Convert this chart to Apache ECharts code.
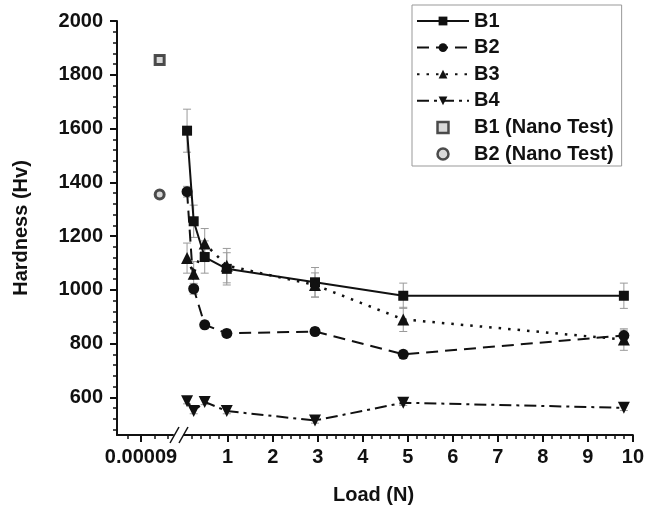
<!DOCTYPE html>
<html>
<head>
<meta charset="UTF-8" />
<title>Hardness vs Load</title>
<script src="https://cdn.jsdelivr.net/npm/echarts@6/dist/echarts.min.js"></script>
<style>
  html, body { margin: 0; padding: 0; background: #fff; }
  #main { width: 647px; height: 512px; }
</style>
</head>
<body>
<div id="main"></div>
<script>
// loads in N (HV0.01 .. HV1)
var loads = [0.098, 0.245, 0.49, 0.98, 2.94, 4.9, 9.8];
var b1 = [1592, 1255, 1122, 1078, 1028, 978, 978];
var b2 = [1365, 1004, 870, 838, 845, 760, 830];
var b3 = [1118, 1060, 1172, 1090, 1018, 890, 815];
var b4 = [586, 549, 583, 549, 514, 580, 561];
var b1Err = [80, 60, 60, 60, 55, 47, 47];
var b2Err = [20, 20, 15, 15, 15, 15, 20];
var b3Err = [56, 45, 56, 64, 45, 45, 40];
var b4Err = [10, 10, 10, 10, 10, 10, 10];

// nano indentation points (left part of the broken axis)
var nanoLoad = [0.0000935];
var b1Nano = [1855];
var b2Nano = [1355];

var yTicks = [600, 800, 1000, 1200, 1400, 1600, 1800, 2000];
var yMinor = [];
for (var v = 480; v <= 2000; v += 40) yMinor.push(v);
var xTicks = [1, 2, 3, 4, 5, 6, 7, 8, 9, 10];
var xMinor = [];
for (var i = 1; i <= 50; i++) { if (i % 5) xMinor.push(i / 5); }
var xLeftTicks = [0.00009];
var xLeftMinor = [0.0000875, 0.0000925, 0.000095];

var FONT = 'Liberation Sans';
var SQUARE = 'path://M0,0L10,0L10,10L0,10Z';
var nanoStyle = { color: '#cfcfcf', borderColor: '#222', borderWidth: 3 };

function pairs(xs, ys) {
  return xs.map(function (x, k) { return [x, ys[k]]; });
}
function errData(ys, errs) {
  return loads.map(function (x, k) { return [x, ys[k] - errs[k], ys[k] + errs[k]]; });
}
function errorBar(params, api) {
  var x = api.value(0);
  var top = api.coord([x, api.value(2)]);
  var bot = api.coord([x, api.value(1)]);
  var w = 4;
  var st = { stroke: '#9a9a9a', lineWidth: 1 };
  return {
    type: 'group',
    children: [
      { type: 'line', shape: { x1: top[0], y1: top[1], x2: bot[0], y2: bot[1] }, style: st },
      { type: 'line', shape: { x1: top[0] - w, y1: top[1], x2: top[0] + w, y2: top[1] }, style: st },
      { type: 'line', shape: { x1: bot[0] - w, y1: bot[1], x2: bot[0] + w, y2: bot[1] }, style: st }
    ]
  };
}
function plain(v) { return String(v); }

var axisLine = { show: true, lineStyle: { color: '#111', width: 2 } };
var yMin = 460, yMax = 2000;

var chart = echarts.init(document.getElementById('main'));
var option = {
  animation: false,
  backgroundColor: '#fff',
  grid: [
    { left: 117, width: 56, top: 21, bottom: 77 },
    { left: 184, right: 11, top: 21, bottom: 77 }
  ],
  xAxis: [
    {
      gridIndex: 0, type: 'value', position: 'bottom', min: 0.0000855, max: 0.000096,
      axisLine: axisLine, splitLine: { show: false },
      axisTick: { show: true, customValues: xLeftTicks, length: 7, lineStyle: { color: '#111', width: 2 } },
      axisLabel: { customValues: xLeftTicks, margin: 12, formatter: function () { return '0.00009'; },
        color: '#111', fontSize: 20, fontWeight: 'bold', fontFamily: FONT }
    },
    {
      gridIndex: 0, type: 'value', position: 'bottom', min: 0.0000855, max: 0.000096,
      axisLine: { show: false }, splitLine: { show: false }, axisLabel: { show: false },
      axisTick: { show: true, customValues: xLeftMinor, length: 4, lineStyle: { color: '#111', width: 1.5 } }
    },
    {
      gridIndex: 1, type: 'value', position: 'bottom', min: 0.03, max: 10,
      axisLine: axisLine, splitLine: { show: false },
      axisTick: { show: true, customValues: xTicks, length: 7, lineStyle: { color: '#111', width: 2 } },
      axisLabel: { customValues: xTicks, margin: 12, formatter: plain,
        color: '#111', fontSize: 20, fontWeight: 'bold', fontFamily: FONT }
    },
    {
      gridIndex: 1, type: 'value', position: 'bottom', min: 0.03, max: 10,
      axisLine: { show: false }, splitLine: { show: false }, axisLabel: { show: false },
      axisTick: { show: true, customValues: xMinor, length: 4, lineStyle: { color: '#111', width: 1.5 } }
    }
  ],
  yAxis: [
    {
      gridIndex: 0, type: 'value', position: 'left', min: yMin, max: yMax,
      name: 'Hardness (Hv)', nameLocation: 'middle', nameGap: 86, nameRotate: 90,
      nameTextStyle: { color: '#111', fontSize: 20, fontWeight: 'bold', fontFamily: FONT },
      axisLine: axisLine, splitLine: { show: false },
      axisTick: { show: true, customValues: yTicks, length: 7, lineStyle: { color: '#111', width: 2 } },
      axisLabel: { customValues: yTicks, margin: 14, formatter: plain,
        color: '#111', fontSize: 20, fontWeight: 'bold', fontFamily: FONT }
    },
    {
      gridIndex: 0, type: 'value', position: 'left', min: yMin, max: yMax,
      axisLine: { show: false }, splitLine: { show: false }, axisLabel: { show: false },
      axisTick: { show: true, customValues: yMinor, length: 4, lineStyle: { color: '#111', width: 1.5 } }
    },
    {
      gridIndex: 1, type: 'value', min: yMin, max: yMax, show: false
    }
  ],
  legend: {
    orient: 'vertical', left: 412, top: 5,
    padding: [6, 8, 2, 4],
    itemWidth: 52, itemHeight: 11, itemGap: 6.6, itemTextGap: 4,
    borderColor: '#999', borderWidth: 1,
    textStyle: { color: '#111', fontSize: 20, fontWeight: 'bold', fontFamily: FONT, lineHeight: 20 },
    data: ['B1', 'B2', 'B3', 'B4',
      { name: 'B1 (Nano Test)', itemStyle: { color: '#cfcfcf', borderColor: '#222', borderWidth: 2.5 } },
      { name: 'B2 (Nano Test)', itemStyle: { color: '#cfcfcf', borderColor: '#222', borderWidth: 2.5 } }]
  },
  graphic: [
    { type: 'line', shape: { x1: 170, y1: 443, x2: 179, y2: 427 }, style: { stroke: '#111', lineWidth: 1.5 } },
    { type: 'line', shape: { x1: 179, y1: 443, x2: 188, y2: 427 }, style: { stroke: '#111', lineWidth: 1.5 } },
    { type: 'text', left: 333, top: 485, style: { text: 'Load (N)', fill: '#111', fontSize: 20, fontWeight: 'bold', fontFamily: FONT } }
  ],
  series: [
    { type: 'custom', name: 'errB1', xAxisIndex: 2, yAxisIndex: 2, renderItem: errorBar, encode: { x: 0, y: [1, 2] }, data: errData(b1, b1Err), z: 1 },
    { type: 'custom', name: 'errB2', xAxisIndex: 2, yAxisIndex: 2, renderItem: errorBar, encode: { x: 0, y: [1, 2] }, data: errData(b2, b2Err), z: 1 },
    { type: 'custom', name: 'errB3', xAxisIndex: 2, yAxisIndex: 2, renderItem: errorBar, encode: { x: 0, y: [1, 2] }, data: errData(b3, b3Err), z: 1 },
    { type: 'custom', name: 'errB4', xAxisIndex: 2, yAxisIndex: 2, renderItem: errorBar, encode: { x: 0, y: [1, 2] }, data: errData(b4, b4Err), z: 1 },
    {
      type: 'line', name: 'B1', xAxisIndex: 2, yAxisIndex: 2, data: pairs(loads, b1),
      symbol: 'rect', symbolSize: 10, z: 5,
      itemStyle: { color: '#111' }, lineStyle: { color: '#111', width: 2, type: 'solid' }
    },
    {
      type: 'line', name: 'B2', xAxisIndex: 2, yAxisIndex: 2, data: pairs(loads, b2),
      symbol: 'circle', symbolSize: 11, z: 5,
      itemStyle: { color: '#111' }, lineStyle: { color: '#111', width: 2, type: [12, 7] }
    },
    {
      type: 'line', name: 'B3', xAxisIndex: 2, yAxisIndex: 2, data: pairs(loads, b3),
      symbol: 'triangle', symbolSize: 12, z: 5,
      itemStyle: { color: '#111' }, lineStyle: { color: '#111', width: 2.5, type: [2.5, 7] }
    },
    {
      type: 'line', name: 'B4', xAxisIndex: 2, yAxisIndex: 2, data: pairs(loads, b4),
      symbol: 'triangle', symbolRotate: 180, symbolSize: 12, z: 5,
      itemStyle: { color: '#111' }, lineStyle: { color: '#111', width: 2, type: [12, 5, 3, 5] }
    },
    {
      type: 'scatter', name: 'B1 (Nano Test)', xAxisIndex: 0, yAxisIndex: 0, data: pairs(nanoLoad, b1Nano),
      symbol: SQUARE, symbolSize: 9, itemStyle: nanoStyle
    },
    {
      type: 'scatter', name: 'B2 (Nano Test)', xAxisIndex: 0, yAxisIndex: 0, data: pairs(nanoLoad, b2Nano),
      symbol: 'circle', symbolSize: 9, itemStyle: nanoStyle
    }
  ]
};
chart.setOption(option);
</script>
</body>
</html>
